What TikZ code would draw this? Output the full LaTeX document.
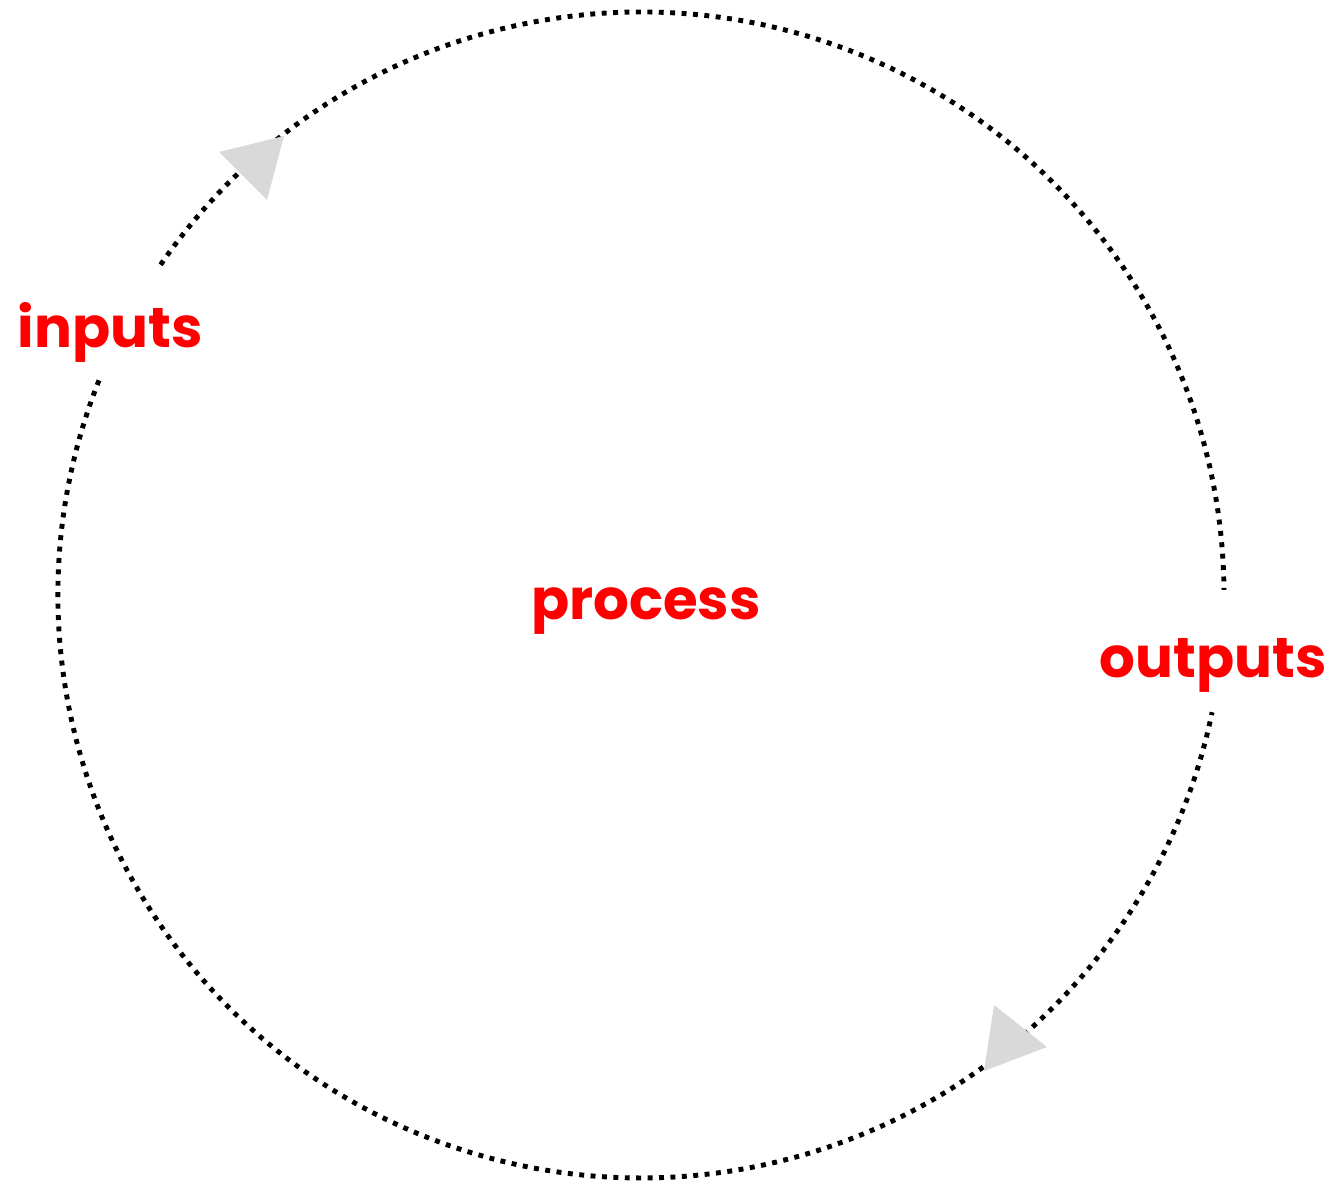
\documentclass[tikz,border=0pt]{standalone}
\usepackage{fontspec}
\setmainfont{Poppins}
\usetikzlibrary{calc}
\definecolor{lblred}{HTML}{FF0000}
\definecolor{tipgray}{HTML}{D9D9D9}

\begin{document}
\begin{tikzpicture}[
 lbl/.style={text=lblred,font=\bfseries\fontsize{16}{19}\selectfont,anchor=base,inner sep=0pt},
 loop/.style={line width=1.4pt,dash pattern=on 1.4pt off 1.85pt}]
\useasboundingbox (0,0) rectangle (13.37,11.92);
\coordinate (c) at (6.41,5.97);
\node[lbl] (proc) at (6.46,5.72) {process};
\node[lbl] (in) at (1.10,8.44) {inputs};
\node[lbl] (out) at (12.13,5.14) {outputs};
\draw[loop] ($(c)+(145.5:5.83)$) arc[start angle=145.5,end angle=0.5,radius=5.83];
\draw[loop] ($(c)+(158.4:5.83)$) arc[start angle=158.4,end angle=348.4,radius=5.83];
\fill[tipgray] (2.19,10.40) -- (2.84,10.56) -- (2.67,9.92) -- cycle;
\fill[tipgray] (9.94,1.87) -- (10.47,1.45) -- (9.84,1.21) -- cycle;
\end{tikzpicture}
\end{document}
